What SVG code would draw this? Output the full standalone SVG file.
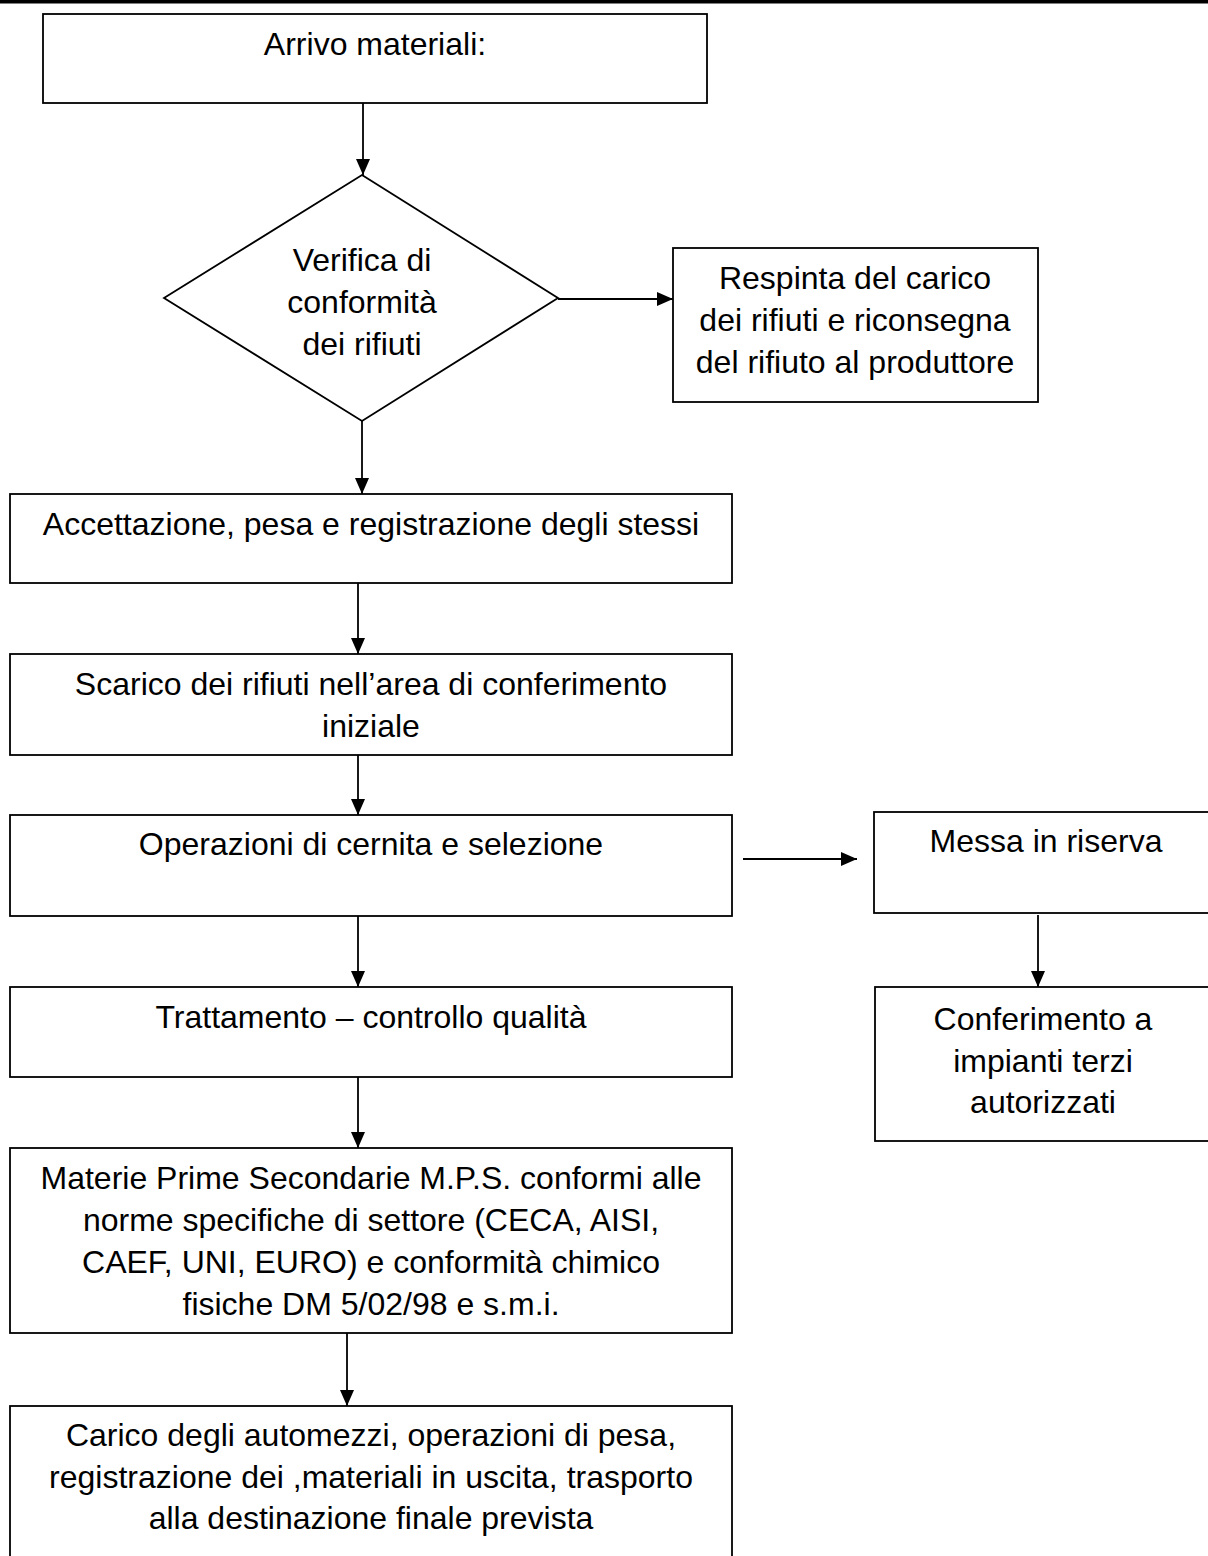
<svg xmlns="http://www.w3.org/2000/svg" width="1208" height="1556" viewBox="0 0 1208 1556">
<style>
.box{fill:#fff;stroke:#000;stroke-width:1.8}
.t{font-family:"Liberation Sans",Arial,sans-serif;font-size:32px;fill:#000;text-anchor:middle}
.c{stroke:#000;stroke-width:1.8;fill:none;marker-end:url(#ah)}
</style>
<defs>
<marker id="ah" markerUnits="userSpaceOnUse" markerWidth="16" markerHeight="14" refX="16" refY="7" orient="auto">
<path d="M0,0 L16,7 L0,14 Z" fill="#000"/>
</marker>
</defs>
<rect width="1208" height="1556" fill="#fff"/>
<rect x="0" y="0" width="1208" height="3.5" fill="#000"/>
<g id="connectors">
<line class="c" x1="363" y1="103" x2="363" y2="175"/>
<line class="c" x1="558" y1="299" x2="673" y2="299"/>
<line class="c" x1="362" y1="421" x2="362" y2="494"/>
<line class="c" x1="358" y1="583" x2="358" y2="654"/>
<line class="c" x1="358" y1="755" x2="358" y2="815"/>
<line class="c" x1="743" y1="859" x2="857" y2="859"/>
<line class="c" x1="358" y1="916" x2="358" y2="987"/>
<line class="c" x1="1038" y1="915" x2="1038" y2="987"/>
<line class="c" x1="358" y1="1077" x2="358" y2="1148"/>
<line class="c" x1="347" y1="1333" x2="347" y2="1406"/>
</g>
<g id="n-arrivo">
<rect class="box" x="43" y="14" width="664" height="89"/>
<text class="t" x="375" y="55">Arrivo materiali:</text>
</g>
<g id="n-verifica">
<polygon class="box" points="362,175 558,298 362,421 164,298"/>
<text class="t" x="362" y="271">Verifica di</text>
<text class="t" x="362" y="313">conformità</text>
<text class="t" x="362" y="355">dei rifiuti</text>
</g>
<g id="n-respinta">
<rect class="box" x="673" y="248" width="365" height="154"/>
<text class="t" x="855" y="289">Respinta del carico</text>
<text class="t" x="855" y="331">dei rifiuti e riconsegna</text>
<text class="t" x="855" y="373">del rifiuto al produttore</text>
</g>
<g id="n-accettazione">
<rect class="box" x="10" y="494" width="722" height="89"/>
<text class="t" x="371" y="535">Accettazione, pesa e registrazione degli stessi</text>
</g>
<g id="n-scarico">
<rect class="box" x="10" y="654" width="722" height="101"/>
<text class="t" x="371" y="695">Scarico dei rifiuti nell’area di conferimento</text>
<text class="t" x="371" y="737">iniziale</text>
</g>
<g id="n-operazioni">
<rect class="box" x="10" y="815" width="722" height="101"/>
<text class="t" x="371" y="855">Operazioni di cernita e selezione</text>
</g>
<g id="n-messa">
<rect class="box" x="874" y="812" width="344" height="101"/>
<text class="t" x="1046" y="852">Messa in riserva</text>
</g>
<g id="n-trattamento">
<rect class="box" x="10" y="987" width="722" height="90"/>
<text class="t" x="371" y="1028">Trattamento – controllo qualità</text>
</g>
<g id="n-conferimento">
<rect class="box" x="875" y="987" width="337" height="154"/>
<text class="t" x="1043" y="1030">Conferimento a</text>
<text class="t" x="1043" y="1072">impianti terzi</text>
<text class="t" x="1043" y="1113">autorizzati</text>
</g>
<g id="n-materie">
<rect class="box" x="10" y="1148" width="722" height="185"/>
<text class="t" x="371" y="1189">Materie Prime Secondarie M.P.S. conformi alle</text>
<text class="t" x="371" y="1231">norme specifiche di settore (CECA, AISI,</text>
<text class="t" x="371" y="1273">CAEF, UNI, EURO) e conformità chimico</text>
<text class="t" x="371" y="1315">fisiche DM 5/02/98 e s.m.i.</text>
</g>
<g id="n-carico">
<rect class="box" x="10" y="1406" width="722" height="170"/>
<text class="t" x="371" y="1446">Carico degli automezzi, operazioni di pesa,</text>
<text class="t" x="371" y="1488">registrazione dei ,materiali in uscita, trasporto</text>
<text class="t" x="371" y="1529">alla destinazione finale prevista</text>
</g>
</svg>
